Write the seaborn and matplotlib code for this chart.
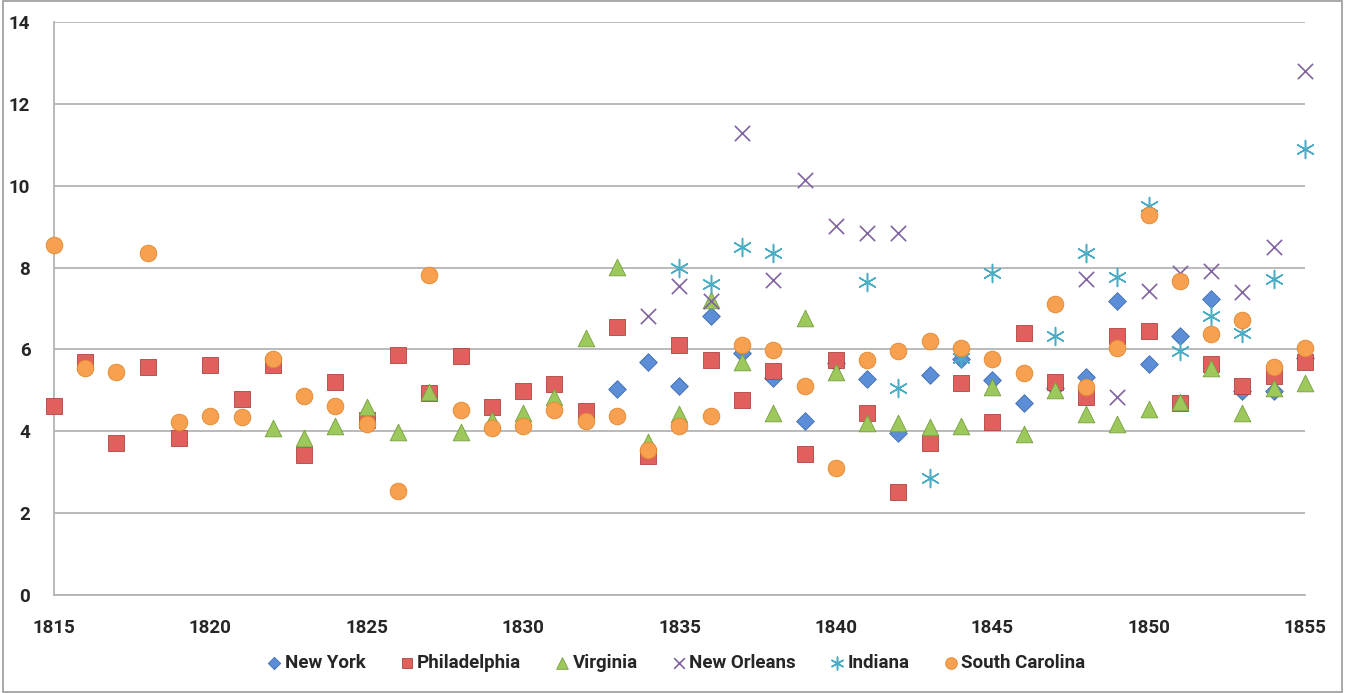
import numpy as np
import pandas as pd
import matplotlib
matplotlib.use('Agg')
from matplotlib import pyplot as plt
from matplotlib.patches import Rectangle
import seaborn as sns

# values, one list per series
years_all = list(range(1815, 1856))

philadelphia = [4.62, 5.69, 3.71, 5.57, 3.84, 5.62, 4.79, 5.62, 3.42, 5.20,
                4.28, 5.86, 4.94, 5.84, 4.59, 4.98, 5.16, 4.50, 6.55, 3.40,
                6.11, 5.74, 4.76, 5.47, 3.44, 5.74, 4.45, 2.52, 3.71, 5.18,
                4.23, 6.40, 5.20, 4.84, 6.33, 6.45, 4.69, 5.64, 5.11, 5.35,
                5.69]

south_carolina = [8.55, 5.55, 5.45, 8.36, 4.23, 4.37, 4.35, 5.77, 4.86, 4.62,
                  4.18, 2.54, 7.82, 4.52, 4.08, 4.13, 4.52, 4.25, 4.37, 3.54,
                  4.13, 4.37, 6.11, 5.99, 5.11, 3.10, 5.74, 5.96, 6.21, 6.03,
                  5.77, 5.42, 7.11, 5.08, 6.03, 9.28, 7.67, 6.38, 6.72, 5.57,
                  6.03]

years_va = list(range(1822, 1856))
virginia = [4.08, 3.84, 4.13, 4.59, 3.98, 4.96, 3.98, 4.28, 4.45, 4.84,
            6.28, 8.01, 3.74, 4.42, 7.20, 5.69, 4.45, 6.77, 5.45, 4.20,
            4.20, 4.10, 4.13, 5.08, 3.93, 5.00, 4.42, 4.18, 4.54, 4.72,
            5.55, 4.45, 5.06, 5.18]

years_ny = list(range(1833, 1856))
new_york = [5.03, 5.69, 5.11, 6.82, 5.91, 5.30, 4.25, 5.67, 5.28, 3.96,
            5.37, 5.77, 5.25, 4.69, 5.06, 5.33, 7.18, 5.64, 6.33, 7.23,
            4.98, 4.98, 5.79]

years_no = [1834, 1835, 1836, 1837, 1838, 1839, 1840, 1841, 1842,
            1848, 1849, 1850, 1851, 1852, 1853, 1854, 1855]
new_orleans = [6.82, 7.55, 7.18, 11.29, 7.70, 10.14, 9.02, 8.84, 8.84,
               7.72, 4.84, 7.43, 7.87, 7.92, 7.40, 8.50, 12.80]

years_in = [1835, 1836, 1837, 1838, 1841, 1842, 1843, 1844, 1845,
            1847, 1848, 1849, 1850, 1851, 1852, 1853, 1854, 1855]
indiana = [7.99, 7.60, 8.50, 8.36, 7.65, 5.06, 2.86, 5.79, 7.87,
           6.33, 8.36, 7.77, 9.50, 5.96, 6.82, 6.40, 7.72, 10.90]

series = [
    ('New York', years_ny, new_york, 'D', '#5B8ED6', '#3F6DB0', 9, 0.6),
    ('Philadelphia', years_all, philadelphia, 's', '#E0605E', '#B04442', 11, 0.6),
    ('Virginia', years_va, virginia, '^', '#9DC85C', '#76A03E', 12, 0.6),
    ('New Orleans', years_no, new_orleans, 'x', '#8064A2', '#8064A2', 11, 1.2),
    ('Indiana', years_in, indiana, (6, 2, 0), '#4BACC6', '#4BACC6', 13, 1.1),
    ('South Carolina', years_all, south_carolina, 'o', '#F7A04F', '#E08830', 12, 0.6),
]

sns.set_style('white')
plt.rcParams['font.family'] = ['Roboto', 'DejaVu Sans']
plt.rcParams['font.weight'] = 'bold'

fig = plt.figure(figsize=(13.45, 6.93), dpi=100)
ax = fig.add_axes([0.0401, 0.1414, 0.9302, 0.8269])

for name, xs, ys, mk, fc, ec, size, lw in series:
    df = pd.DataFrame({'year': xs, 'value': ys})
    if mk in ('x', (6, 2, 0)):
        sns.scatterplot(data=df, x='year', y='value', ax=ax, marker=mk,
                        color=fc, s=size ** 2, linewidth=lw, label=name,
                        zorder=3, clip_on=False)
    else:
        sns.scatterplot(data=df, x='year', y='value', ax=ax, marker=mk,
                        color=fc, edgecolor=ec, s=size ** 2, linewidth=lw,
                        label=name, zorder=3, clip_on=False)

ax.set_xlim(1815, 1855)
ax.set_ylim(0, 14)
ax.set_xticks(range(1815, 1856, 5))
ax.set_yticks(range(0, 15, 2))
ax.set_xlabel('')
ax.set_ylabel('')
ax.yaxis.grid(True, color='#B4B4B4', linewidth=1.3, zorder=0)
ax.xaxis.grid(False)
ax.set_axisbelow(True)
for side in ('top', 'right'):
    ax.spines[side].set_visible(False)
for side in ('left', 'bottom'):
    ax.spines[side].set_color('#B4B4B4')
    ax.spines[side].set_linewidth(1.3)
ax.tick_params(axis='both', direction='out', length=6, width=1.3,
               color='#B4B4B4', labelsize=13.5, pad=11)
for lbl in ax.get_xticklabels() + ax.get_yticklabels():
    lbl.set_fontweight('bold')

handles, labels = ax.get_legend_handles_labels()
ax.legend(handles, labels, loc='center', bbox_to_anchor=(0.502, 0.043),
          bbox_transform=fig.transFigure, ncol=6, frameon=False,
          prop={'size': 13.5, 'weight': 'bold'}, markerscale=0.7,
          handletextpad=0.05, columnspacing=1.7, handlelength=1.0)

fig.patches.append(Rectangle((0.002, 0.002), 0.996, 0.996,
                             transform=fig.transFigure, fill=False,
                             edgecolor='#9A9A9A', linewidth=1.2))

fig.savefig('out.png', dpi=100, facecolor='white')
